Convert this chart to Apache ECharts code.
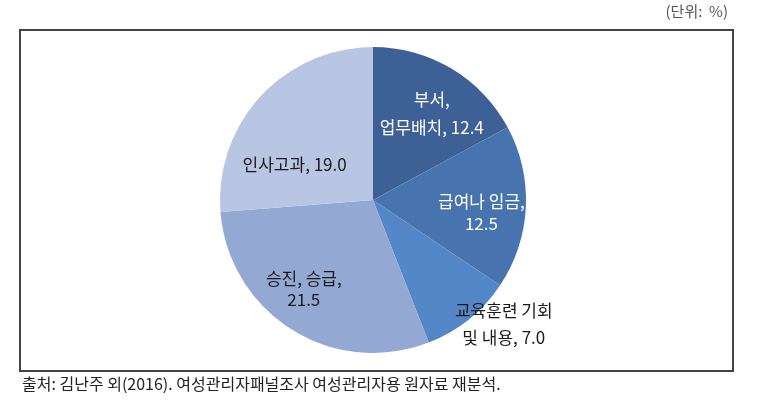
<!DOCTYPE html>
<html><head><meta charset="utf-8">
<script src="https://cdn.jsdelivr.net/npm/echarts@6/dist/echarts.min.js"></script>
<style>html,body{margin:0;padding:0;background:#fff}#c{width:760px;height:408px}</style>
</head><body><div id="c"></div>
<script>
const categories = ['부서,\n업무배치, 12.4', '급여나 임금,\n12.5', '교육훈련 기회\n및 내용, 7.0', '승진, 승급,\n21.5', '인사고과, 19.0'];
const names = ['부서, 업무배치', '급여나 임금', '교육훈련 기회 및 내용', '승진, 승급', '인사고과'];
const values = [12.4, 12.5, 7.0, 21.5, 19.0];
const colors = ['#3d6097', '#4773ae', '#5387c7', '#93a9d4', '#b9c6e3'];
const labelColors = ['#ffffff', '#ffffff', '#1a1a1a', '#1a1a1a', '#1a1a1a'];
const labelLineHeights = [28, 22, 27, 21, 21];
const labelShift = [[18, -18], [29, 9], [81, 62], [-27, 22], [-20, 19]];

const chart = echarts.init(document.getElementById('c'), null, {renderer: 'canvas'});
const fontFamily = '"Noto Sans CJK KR", "Noto Sans", sans-serif';
chart.setOption({
  animation: false,
  backgroundColor: '#ffffff',
  graphic: [
    {type: 'rect', shape: {x: 20, y: 30, width: 713, height: 341}, style: {fill: 'none', stroke: '#444444', lineWidth: 2}, z: 0},
    {type: 'text', right: 32, top: 4, style: {text: '(단위:  %)', font: '15px ' + fontFamily, fill: '#555555'}},
    {type: 'text', left: 22, top: 376, style: {text: '출처: 김난주 외(2016). 여성관리자패널조사 여성관리자용 원자료 재분석.', font: '16px ' + fontFamily, fill: '#222222'}}
  ],
  series: [{
    type: 'pie',
    center: [373, 200],
    radius: 153,
    startAngle: 90,
    clockwise: true,
    silent: true,
    label: {show: true, position: 'inside', fontFamily: fontFamily, fontSize: 17, formatter: p => categories[p.dataIndex]},
    labelLine: {show: false},
    labelLayout: p => ({dx: labelShift[p.dataIndex][0], dy: labelShift[p.dataIndex][1]}),
    data: values.map((v, i) => ({
      value: v, name: names[i],
      itemStyle: {color: colors[i]},
      label: {color: labelColors[i], lineHeight: labelLineHeights[i]}
    }))
  }]
});
</script></body></html>
